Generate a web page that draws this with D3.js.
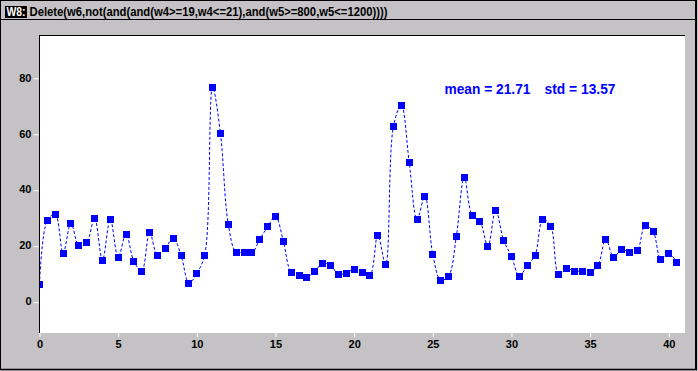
<!DOCTYPE html>
<html><head><meta charset="utf-8">
<script src="https://cdn.jsdelivr.net/npm/d3@7"></script>
<style>
html,body{margin:0;padding:0;background:#c4c2c4;}
svg{display:block;}
text{font-family:"Liberation Sans",Arial,sans-serif;font-weight:bold;}
</style></head>
<body>
<svg id="chart" width="698" height="371"></svg>
<script>
const windowTag = "W8:";
const titleText = "Delete(w6,not(and(and(w4>=19,w4<=21),and(w5>=800,w5<=1200))))";
const statMean = "mean = 21.71";
const statStd = "std = 13.57";
const xTicks = [0, 5, 10, 15, 20, 25, 30, 35, 40];
const yTicks = [0, 20, 40, 60, 80];
const xValues = [0,0.5,1,1.5,2,2.5,3,3.5,4,4.5,5,5.5,6,6.5,7,7.5,8,8.5,9,9.5,10,10.5,11,11.5,12,12.5,13,13.5,14,14.5,15,15.5,16,16.5,17,17.5,18,18.5,19,19.5,20,20.5,21,21.5,22,22.5,23,23.5,24,24.5,25,25.5,26,26.5,27,27.5,28,28.5,29,29.5,30,30.5,31,31.5,32,32.5,33,33.5,34,34.5,35,35.5,36,36.5,37,37.5,38,38.5,39,39.5,40,40.5];
const yValues = [6.4,29.3,31.4,17.5,28.2,20.4,21.4,30.0,15.0,29.6,16.1,24.3,14.6,11.1,25.0,16.8,19.3,22.9,16.8,6.8,10.4,16.8,76.8,60.4,27.9,17.9,17.9,17.6,22.5,26.9,30.7,21.8,10.7,9.6,8.9,11.1,13.9,13.2,10.0,10.4,11.8,10.7,9.6,23.9,13.6,62.9,70.4,50.0,29.6,37.9,17.1,7.9,9.3,23.6,44.6,31.1,28.9,20.0,32.9,22.1,16.4,9.3,13.2,16.8,29.6,27.1,10.0,12.1,11.1,11.1,10.7,13.2,22.5,16.1,18.9,17.9,18.6,27.5,25.4,15.4,17.5,14.3];

const svg = d3.select("#chart");
const W = 698, H = 371;
const gray = "#c4c2c4";
const blue = "#0000ff";
const plot = {x0: 40, y0: 36, x1: 685, y1: 333};

svg.append("rect").attr("x",0).attr("y",0).attr("width",W).attr("height",H).attr("fill",gray);

// title bar
svg.append("rect").attr("x",5).attr("y",6).attr("width",22).attr("height",12).attr("fill","#000");
svg.append("text").attr("x",6.5).attr("y",16).attr("fill","#fff").attr("font-size",12)
  .attr("textLength",19).attr("lengthAdjust","spacingAndGlyphs").text(windowTag);
svg.append("text").attr("x",29.5).attr("y",16).attr("fill","#000").attr("font-size",12)
  .attr("textLength",358).attr("lengthAdjust","spacingAndGlyphs").text(titleText);
svg.append("line").attr("x1",0).attr("x2",696).attr("y1",19.5).attr("y2",19.5).attr("stroke","#000");

// outer frame
svg.append("line").attr("x1",0.5).attr("x2",0.5).attr("y1",0).attr("y2",370).attr("stroke","#000");
svg.append("line").attr("x1",0).attr("x2",697).attr("y1",0.5).attr("y2",0.5).attr("stroke","#000");
svg.append("line").attr("x1",696).attr("x2",696).attr("y1",0).attr("y2",370).attr("stroke","#000").attr("stroke-width",2);
svg.append("line").attr("x1",0).attr("x2",697).attr("y1",369.5).attr("y2",369.5).attr("stroke","#000").attr("stroke-width",1.5);

// plot area
svg.append("rect").attr("x",plot.x0).attr("y",plot.y0).attr("width",plot.x1-plot.x0).attr("height",plot.y1-plot.y0).attr("fill","#fff");
svg.append("line").attr("x1",39).attr("x2",plot.x1).attr("y1",35.5).attr("y2",35.5).attr("stroke","#000");

const x = d3.scaleLinear().domain([0,41]).range([39.5,684.5]);
const y = d3.scaleLinear().domain([-11,95.1]).range([333,36]);

svg.append("defs").append("clipPath").attr("id","clip").append("rect")
  .attr("x",plot.x0).attr("y",plot.y0).attr("width",plot.x1-plot.x0).attr("height",plot.y1-plot.y0);

// axes
const yAxis = svg.append("g").attr("transform","translate(39.5,0)")
  .call(d3.axisLeft(y).tickValues(yTicks).tickSize(6).tickPadding(2).tickFormat(d3.format("d")));
yAxis.select(".domain").remove();
yAxis.selectAll(".tick line").attr("stroke","#fff");
yAxis.selectAll(".tick text").attr("fill","#000").attr("font-size",11).attr("font-family","Liberation Sans, Arial, sans-serif").attr("font-weight","bold").attr("dy","0.25em");
svg.append("line").attr("x1",39.5).attr("x2",39.5).attr("y1",35).attr("y2",333).attr("stroke","#000");

const xAxis = svg.append("g").attr("transform","translate(0,333)")
  .call(d3.axisBottom(x).tickValues(xTicks).tickSize(4).tickPadding(3).tickFormat(d3.format("d")));
xAxis.select(".domain").remove();
xAxis.selectAll(".tick line").attr("stroke","#fff");
xAxis.selectAll(".tick text").attr("fill","#000").attr("font-size",11).attr("font-family","Liberation Sans, Arial, sans-serif").attr("font-weight","bold");

// data
const pts = xValues.map((v,i)=>[v,yValues[i]]);
const g = svg.append("g").attr("clip-path","url(#clip)");
const line = d3.line().x(d=>x(d[0])).y(d=>y(d[1])).curve(d3.curveCatmullRom.alpha(0.5));
g.append("path").datum(pts).attr("d",line).attr("fill","none").attr("stroke",blue)
  .attr("stroke-width",1).attr("stroke-dasharray","3,2");
const s = 7;
g.selectAll("rect.pt").data(pts).enter().append("rect").attr("class","pt")
  .attr("x",d=>Math.round(x(d[0])-s/2)).attr("y",d=>Math.round(y(d[1])-s/2))
  .attr("width",s).attr("height",s).attr("fill",blue);

// stats
svg.append("text").attr("x",444.5).attr("y",94).attr("fill",blue).attr("font-size",14.5)
  .attr("textLength",86).attr("lengthAdjust","spacingAndGlyphs").text(statMean);
svg.append("text").attr("x",544.5).attr("y",94).attr("fill",blue).attr("font-size",14.5)
  .attr("textLength",71).attr("lengthAdjust","spacingAndGlyphs").text(statStd);
</script>
</body></html>
